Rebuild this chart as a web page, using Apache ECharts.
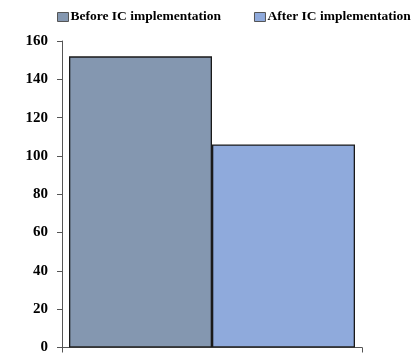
<!DOCTYPE html>
<html>
<head>
<meta charset="utf-8">
<script src="https://cdn.jsdelivr.net/npm/echarts@6/dist/echarts.min.js"></script>
<style>
  html, body { margin: 0; padding: 0; background: #fff; }
  #chart { width: 418px; height: 355px; }
</style>
</head>
<body>
<div id="chart"></div>
<script>
// Single group, two phases compared side by side
const categories = [''];
const seriesNames = ['Before IC implementation', 'After IC implementation'];
const beforeValues = [152];
const afterValues = [106];
const yTicks = [0, 20, 40, 60, 80, 100, 120, 140, 160];

const FONT = '"Liberation Serif", "DejaVu Serif", serif';

const chart = echarts.init(document.getElementById('chart'));
chart.setOption({
  animation: false,
  textStyle: { fontFamily: FONT },
  legend: {
    top: 10,
    left: 57,
    width: 361,
    padding: 0,
    itemWidth: 11,
    itemHeight: 9,
    itemGap: 33,
    icon: 'rect',
    itemStyle: { borderColor: '#555', borderWidth: 1 },
    textStyle: { fontFamily: FONT, fontWeight: 'bold', fontSize: 13.5, color: '#000', padding: [0, 0, 0, -3] },
    data: seriesNames
  },
  grid: { left: 62, right: 56, top: 41, bottom: 7, containLabel: false },
  xAxis: {
    type: 'category',
    data: categories,
    axisLine: { lineStyle: { color: '#555', width: 1 } },
    axisTick: { show: true, length: 5, lineStyle: { color: '#555' } },
    axisLabel: { show: false }
  },
  yAxis: {
    type: 'value',
    min: yTicks[0],
    max: yTicks[yTicks.length - 1],
    interval: 20,
    axisLine: { show: true, lineStyle: { color: '#555', width: 1 } },
    axisTick: { show: true, length: 5, lineStyle: { color: '#555' } },
    splitLine: { show: false },
    axisLabel: {
      fontFamily: FONT, fontWeight: 'bold', fontSize: 15, color: '#000', margin: 14
    }
  },
  series: [
    {
      name: seriesNames[0],
      type: 'bar',
      data: beforeValues,
      barWidth: 143,
      barGap: '0%',
      itemStyle: { color: '#8497B0', borderColor: '#1a1a1a', borderWidth: 1.3 }
    },
    {
      name: seriesNames[1],
      type: 'bar',
      data: afterValues,
      barWidth: 143,
      barGap: '0%',
      itemStyle: { color: '#8FAADC', borderColor: '#1a1a1a', borderWidth: 1.3 }
    }
  ]
});
</script>
</body>
</html>
